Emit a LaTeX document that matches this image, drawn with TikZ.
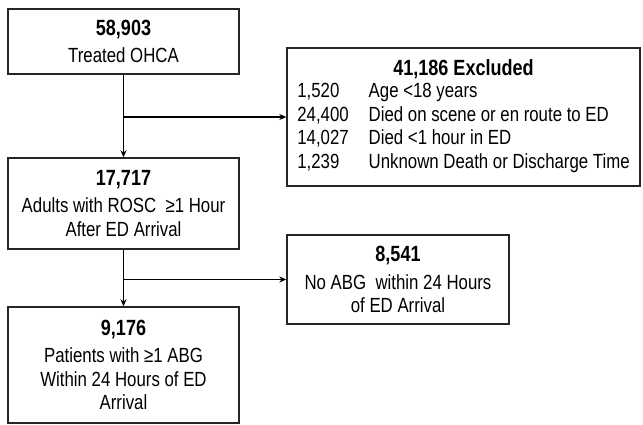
\documentclass[tikz,border=0pt]{standalone}
\usepackage{fontspec}
\setmainfont[FakeStretch=0.82]{Liberation Sans}
\usetikzlibrary{arrows.meta}
\begin{document}
\begin{tikzpicture}[
    x=1pt, y=-1pt,
    >={Stealth[length=7pt,width=6pt]},
    line width=1.5pt,
    box/.style={rectangle, draw=black!85, line width=1.4pt, align=center,
                inner sep=0pt, font=\fontsize{20.5}{23.5}\selectfont}
]
  \useasboundingbox (0,0) rectangle (643,425);

  % nodes
  \node[box, minimum width=231pt, minimum height=65pt] (OHCA) at (123.5,41.5)
    {{\fontsize{22}{24}\selectfont\bfseries 58,903}\\[4pt] Treated OHCA};
  \node[box, minimum width=353pt, minimum height=138pt] (Excl) at (463.5,117)
    {\begin{tabular}{@{}l@{\hspace{20pt}}l@{}}
       \multicolumn{2}{c}{\fontsize{22}{24}\selectfont\bfseries 41,186 Excluded}\\[-1pt]
       1,520  & Age <18 years\\
       24,400 & Died on scene or en route to ED\\
       14,027 & Died <1 hour in ED\\
       1,239  & Unknown Death or Discharge Time
     \end{tabular}};
  \node[box, minimum width=231pt, minimum height=91pt] (ROSC) at (123.5,203.5)
    {{\fontsize{22}{24}\selectfont\bfseries 17,717}\\[4pt] Adults with ROSC~ ≥1 Hour\\ After ED Arrival};
  \node[box, minimum width=222pt, minimum height=89pt] (NoABG) at (398,279.5)
    {{\fontsize{22}{24}\selectfont\bfseries 8,541}\\[4pt] No ABG~ within 24 Hours\\ of ED Arrival};
  \node[box, minimum width=231pt, minimum height=116pt] (ABG) at (123.5,365)
    {{\fontsize{22}{24}\selectfont\bfseries 9,176}\\[4pt] Patients with ≥1 ABG\\ Within 24 Hours of ED\\ Arrival};

  % edges
  \draw[->] (OHCA.south) -- (ROSC.north);
  \draw[->] (OHCA.south |- Excl.west) -- (Excl.west);
  \draw[->] (ROSC.south) -- (ABG.north);
  \draw[->] (ROSC.south |- NoABG.west) -- (NoABG.west);
\end{tikzpicture}
\end{document}
